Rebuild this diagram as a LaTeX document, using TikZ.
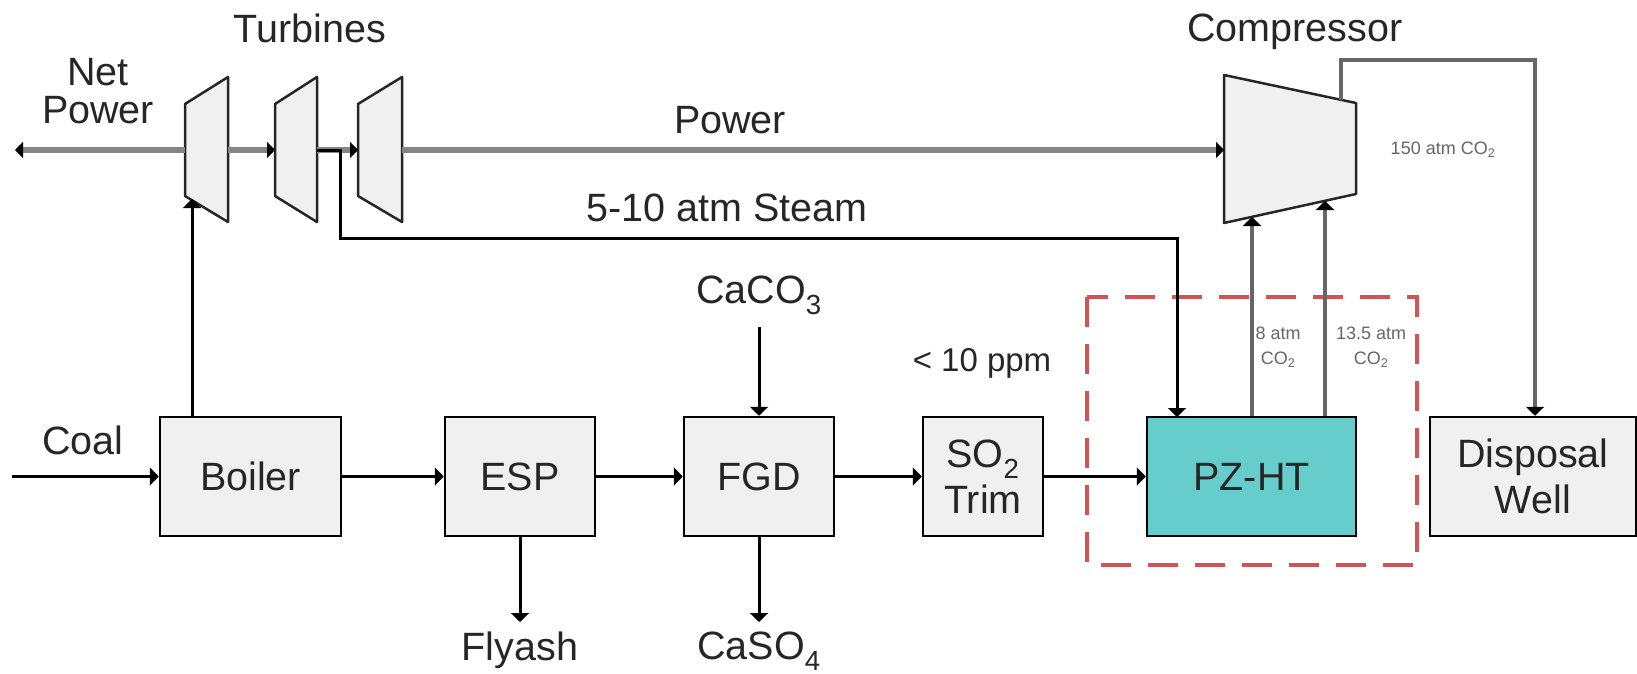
\documentclass[tikz,border=0pt]{standalone}
\usepackage{fontspec}
\setmainfont{Liberation Sans}
\usetikzlibrary{calc,arrows.meta}
\definecolor{boxgray}{HTML}{F0F0F0}
\definecolor{pzteal}{HTML}{66CDCC}
\definecolor{capred}{RGB}{208,84,84}
\definecolor{pwrgray}{HTML}{858585}

\begin{document}
\begin{tikzpicture}[x=1pt, y=-1pt,
    unit/.style={draw=black, line width=2.5pt, fill=boxgray, minimum height=119pt, align=center,
        font=\fontsize{39.5}{46}\selectfont, text=black!85},
    lbl/.style={font=\fontsize{39.5}{38}\selectfont, text=black!85, align=center, inner sep=0pt},
    tiny/.style={font=\fontsize{18}{25}\selectfont, text=black!60, align=center, inner sep=0pt},
    flow/.style={line width=3pt, -{Triangle[length=9pt,width=18pt]}},
    pwr/.style={line width=6pt, draw=pwrgray, -{Triangle[length=8pt,width=16pt,color=black]}},
    co2/.style={line width=4pt, draw=black!60, -{Triangle[length=9pt,width=18pt,color=black]}},
    turb/.style={line width=2.5pt, draw=black!85, fill=boxgray, line join=round}]
    \useasboundingbox (0,0) rectangle (1637,674);

    % capture section
    \draw[capred, line width=3.5pt, dash pattern=on 30pt off 17pt] (1087,297) rectangle (1417,565);

    % turbines and compressor
    \foreach \n/\l/\r in {t1/185/228,t2/275/317,t3/358/402}{
        \draw[turb] (\l,104) -- (\r,77) -- (\r,222) -- (\l,196) -- cycle;
        \coordinate (\n-w) at (\l,150);
        \coordinate (\n-e) at (\r,150);
    }
    \draw[turb] (1224,75) -- (1356,103) -- (1356,194) -- (1224,223) -- cycle;
    \coordinate (cmp-w) at (1224,150); \coordinate (cmp-in1) at (1252,217);
    \coordinate (cmp-in2) at (1325,201); \coordinate (cmp-out) at (1341,100);
    \coordinate (t1-in) at (192,199); \coordinate (np) at (15,150);

    % process units
    \node[unit, minimum width=181pt] (boiler) at (250.5,476.5) {Boiler};
    \node[unit, minimum width=150pt] (esp) at (520,476.5) {ESP};
    \node[unit, minimum width=150pt] (fgd) at (759,476.5) {FGD};
    \node[unit, minimum width=120pt] (so2) at (983,476.5) {SO\textsubscript{2}\\Trim};
    \node[unit, minimum width=209pt, fill=pzteal] (pz) at (1251.5,476.5) {PZ-HT};
    \node[unit, minimum width=206pt] (well) at (1533,476.5) {Disposal\\Well};

    % labels
    \node[lbl] (netpwr) at (98,91) {Net\\Power};
    \node[lbl] (turblbl) at (310,28) {Turbines};
    \node[lbl] (cmplbl) at (1295,31.5) {Compressor};
    \node[lbl] (pwrlbl) at (730,120) {Power};
    \node[lbl] (steamlbl) at (727,208) {5-10 atm Steam};
    \node[lbl] (coallbl) at (83,440) {Coal};
    \node[lbl, font=\fontsize{33}{38}\selectfont] (ppm) at (982,363) {< 10 ppm};
    \node[lbl, anchor=south, inner sep=12pt] (caco) at (759,327) {CaCO\textsubscript{3}};
    \node[lbl, anchor=north, inner sep=10pt] (fly) at (520,622) {Flyash};
    \node[lbl, anchor=north, inner sep=10pt] (caso) at (759,622) {CaSO\textsubscript{4}};
    \node[tiny] (lo) at (1278,347) {8 atm\\CO\textsubscript{2}};
    \node[tiny] (hi) at (1371,347) {13.5 atm\\CO\textsubscript{2}};
    \node[tiny] (hp) at (1443,150) {150 atm CO\textsubscript{2}};

    % power shaft
    \draw[pwr] (t1-w) -- (np);
    \draw[pwr] (t1-e) -- (t2-w);
    \draw[pwr] (t2-e) -- (t3-w);
    \draw[pwr] (t3-e) -- (cmp-w);

    % flue gas train
    \coordinate (coal) at (12,476.5);
    \draw[flow] (coal) -- (boiler);
    \draw[flow] (boiler) -- (esp);
    \draw[flow] (esp) -- (fgd);
    \draw[flow] (fgd) -- (so2);
    \draw[flow] (so2) -- (pz);
    \draw[flow] (boiler.north -| t1-in) -- (t1-in);
    \draw[flow] (caco) -- (fgd);
    \draw[flow] (esp) -- (fly);
    \draw[flow] (fgd) -- (caso);

    % steam and CO2
    \coordinate (sb) at (340,238); \coordinate (pz-in) at (1177,417);
    \draw[flow] (t2-e) -| (sb) -| (pz-in);
    \draw[co2] (pz.north -| cmp-in1) -- (cmp-in1);
    \draw[co2] (pz.north -| cmp-in2) -- (cmp-in2);
    \coordinate (cturn) at (1535,60);
    \draw[co2] (cmp-out) |- (cturn) -- (well.north -| cturn);
\end{tikzpicture}
\end{document}
